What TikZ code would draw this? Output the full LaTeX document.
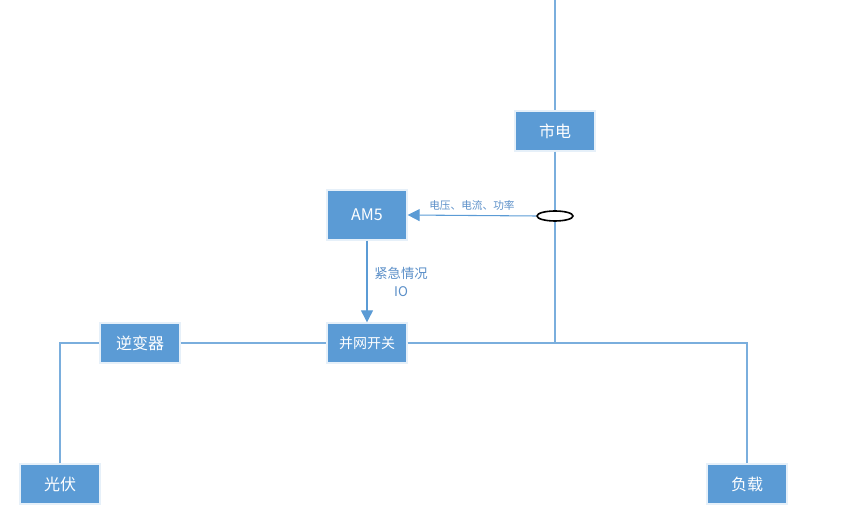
\documentclass[tikz,border=0pt]{standalone}
\usepackage{fontspec}
\setmainfont{Noto Sans CJK SC}
\usetikzlibrary{arrows.meta,shapes.geometric}
\definecolor{bx}{HTML}{5B9BD5}
\definecolor{ln}{HTML}{7AAEDD}
\definecolor{lb}{HTML}{5B8FC8}
\tikzset{box/.style={draw=white!85!bx,line width=1pt,fill=bx,text=white,minimum width=60pt,minimum height=30pt,inner sep=0pt,font=\fontsize{12}{14}\selectfont},
wire/.style={draw=ln,line width=0.8pt}}
\begin{document}
\begin{tikzpicture}[x=0.75pt,y=-0.75pt]
\useasboundingbox (0,0) rectangle (850,509);
\node[box] (grid) at (555,131) {市电};
\node[box,minimum height=37.5pt] (am5) at (367,215) {AM5};
\node[box,font=\fontsize{10.5}{12}\selectfont] (sw) at (367,343) {并网开关};
\node[box] (inv) at (140,343) {逆变器};
\node[box] (pv) at (60,484) {光伏};
\node[box] (load) at (747,484) {负载};
\coordinate (top) at (555,0);
\coordinate (j) at (555,343);
\coordinate (jl) at (60,343);
\coordinate (jr) at (747,343);
\node[draw=black,line width=1.2pt,ellipse,minimum width=27pt,minimum height=7.5pt,inner sep=0pt] (ct) at (555,216) {};
\draw[wire] (top) -- (grid) -- (ct.north);
\draw[wire] (ct.south) -- (j);
\draw[wire] (pv) -- (jl) -- (inv) -- (sw) -- (jr) -- (load);
\draw[wire] (sw.east) -- (j);
\draw[wire,-{Triangle[length=9pt,width=9pt]},draw=bx] (ct.west) -- node[above,text=lb,font=\fontsize{8}{9}\selectfont]{电压、电流、功率} (am5.east);
\draw[wire,-{Triangle[length=9pt,width=9pt]},draw=bx] (am5) -- (sw);
\node[text=lb,font=\fontsize{10}{13}\selectfont,align=center] (lab) at (401,282) {紧急情况\\IO};
\end{tikzpicture}
\end{document}
